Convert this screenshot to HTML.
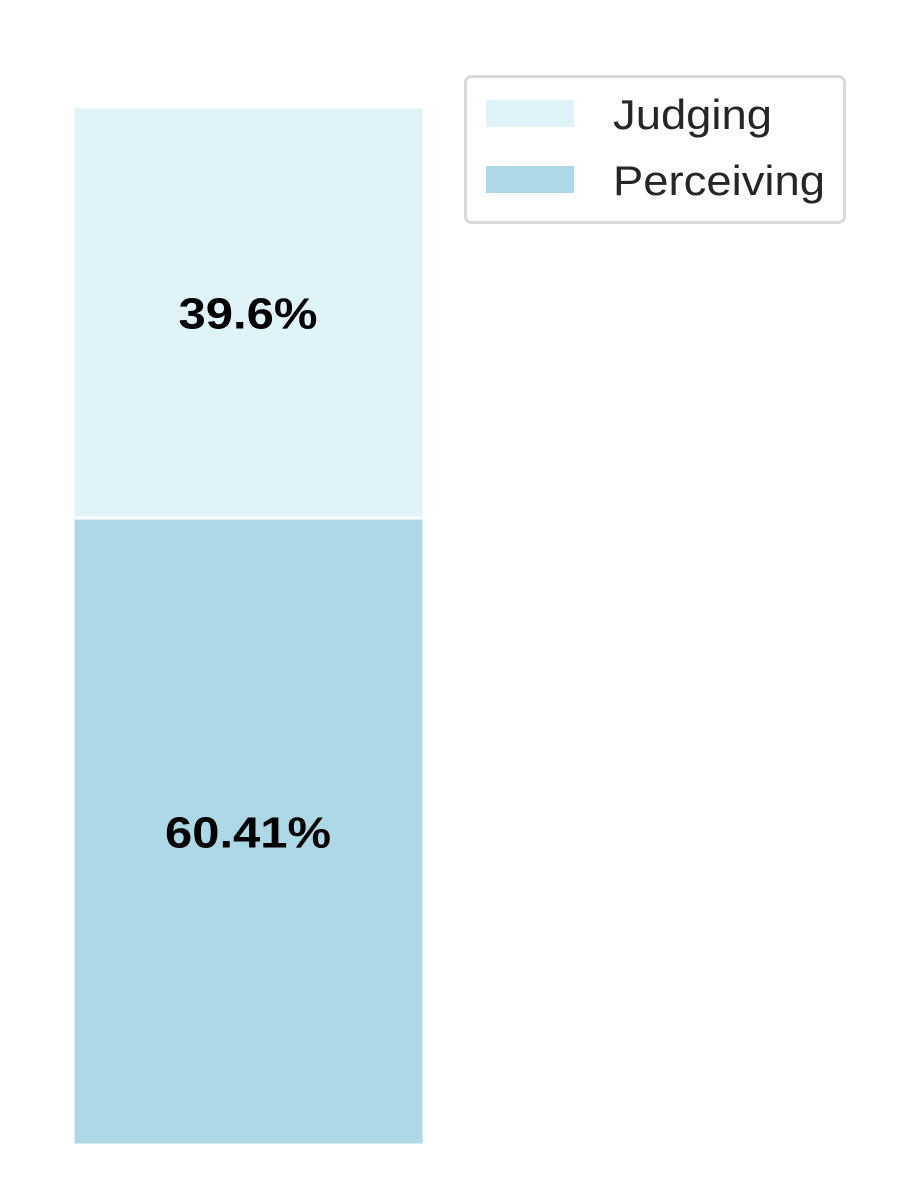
<!DOCTYPE html>
<html><head><meta charset="utf-8"><style>body{margin:0;background:#fff}svg{display:block}</style></head>
<body>
<svg width="900" height="1200" font-family="Liberation Sans, sans-serif">
<g id="bars"></g>
<g>
<rect x="465.5" y="76.5" width="379" height="146" rx="6" fill="#fff" stroke="#d9d9d9" stroke-width="3"/>
<rect x="486" y="100" width="88" height="27" fill="#e0f3f8"/>
<text x="613" y="129" font-size="42" textLength="159" lengthAdjust="spacingAndGlyphs" fill="#262626">Judging</text>
<rect x="486" y="166" width="88" height="27" fill="#add8e6"/>
<text x="613" y="195" font-size="42" textLength="212" lengthAdjust="spacingAndGlyphs" fill="#262626">Perceiving</text>
</g>
</svg>
<script>
const categories = ['Perceiving', 'Judging'];
const values = [60.41, 39.6];
const labels = ['60.41%', '39.6%'];
const labelWidths = [166, 139];
const colors = ['#add8e6', '#e0f3f8'];
const y0 = 1145, total = 100.01, h = 1038;
function yScale(v){ return y0 - v / total * h; }
const g = document.getElementById('bars');
const ns = 'http://www.w3.org/2000/svg';
let acc = 0;
categories.forEach((c, i) => {
  const yt = yScale(acc + values[i]), yb = yScale(acc);
  const r = document.createElementNS(ns, 'rect');
  r.setAttribute('x', 73); r.setAttribute('width', 351);
  r.setAttribute('y', yt); r.setAttribute('height', yb - yt);
  r.setAttribute('fill', colors[i]); r.setAttribute('stroke', '#fff'); r.setAttribute('stroke-width', 3);
  
  
  g.appendChild(r);
  const t = document.createElementNS(ns, 'text');
  t.setAttribute('x', 248); t.setAttribute('y', (yt + yb) / 2 + 16);
  t.setAttribute('text-anchor', 'middle'); t.setAttribute('font-size', 44); t.setAttribute('font-weight', 'bold');
  t.setAttribute('textLength', labelWidths[i]); t.setAttribute('lengthAdjust', 'spacingAndGlyphs');
  t.textContent = labels[i];
  
  
  g.appendChild(t);
  acc += values[i];
});
</script>
</body></html>
